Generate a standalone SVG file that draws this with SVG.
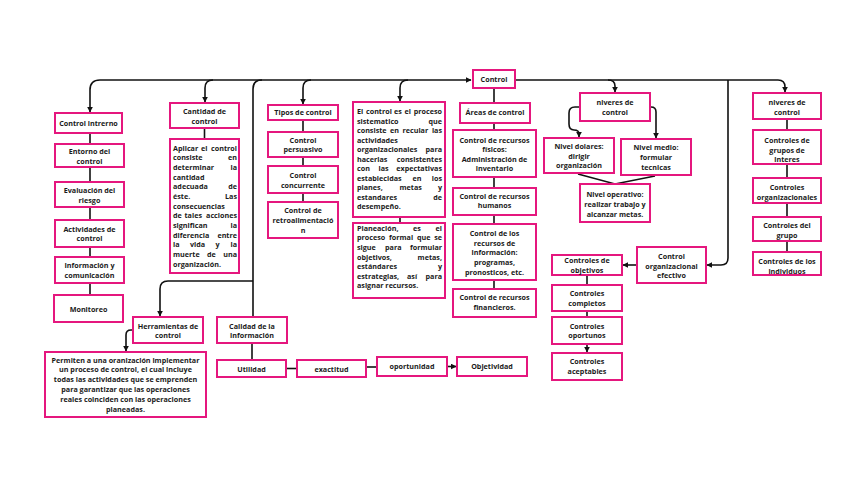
<svg xmlns="http://www.w3.org/2000/svg" width="848" height="477" viewBox="0 0 848 477">
<defs>
<marker id="a" viewBox="0 0 10 10" refX="9" refY="5" markerWidth="6" markerHeight="6" markerUnits="userSpaceOnUse" orient="auto"><path d="M0,0 L10,5 L0,10 z" fill="#111"/></marker>
<style>
rect{fill:#fff;stroke:#e5177e;stroke-width:2}
text{font-family:"Open Sans","DejaVu Sans",sans-serif;font-weight:700;font-size:7.2px;fill:#1a1a1a;text-anchor:middle}
text.l{text-anchor:start}
text.r{text-anchor:end}
#conn path{fill:none;stroke:#111;stroke-width:1.6}
</style>
</defs>
<rect x="0" y="0" width="848" height="477" style="fill:#fff;stroke:none"/>
<g id="conn">
<path d="M100,80 H471" marker-end="url(#a)"/>
<path d="M100,80 Q90,80 90,90 V112" marker-end="url(#a)"/>
<path d="M515,80 H778 Q785,80 785,87 V92" marker-end="url(#a)"/>
<path d="M213,80 Q205,80 205,88 V102" marker-end="url(#a)"/>
<path d="M262,80 Q253,80 253,89 V317"/>
<path d="M311,80 Q303,80 303,88 V104" marker-end="url(#a)"/>
<path d="M408,80 Q400,80 400,88 V101" marker-end="url(#a)"/>
<path d="M253,281 H168 Q160,281 160,289 V316" marker-end="url(#a)"/>
<path d="M133,330 H131 Q126,330 126,335 V351" marker-end="url(#a)"/>
<path d="M608,80 Q615,80 615,86 V92" marker-end="url(#a)"/>
<path d="M728,80 V258 Q728,265 721,265 H707" marker-end="url(#a)"/>
<path d="M637,265 H623" marker-end="url(#a)"/>
<path d="M90,133 V295"/>
<path d="M204.5,128 V139"/>
<path d="M303,120 V202"/>
<path d="M400,217 V223"/>
<path d="M494,88 V289"/>
<path d="M580,107 H575 Q569,107 569,113 V124 Q569,130 574,130 Q579,130 579,134 V137" marker-end="url(#a)"/>
<path d="M650,107 H651 Q656,107 656,112 V138" marker-end="url(#a)"/>
<path d="M578,174 L615,184 L655,176"/>
<path d="M787,119 V252"/>
<path d="M587,275 V317"/>
<path d="M587,344 V352" marker-end="url(#a)"/>
<path d="M252,343 V360"/>
<path d="M286,368.5 H297"/>
<path d="M366,367 H377"/>
<path d="M447,366.5 H456" marker-end="url(#a)"/>
</g>
<g id="control"><rect x="473" y="70" width="42" height="18"/><text x="494" y="81.5">Control</text></g>
<g id="control-intrerno"><rect x="55" y="113" width="67" height="20"/><text x="88.5" y="125.5">Control intrerno</text></g>
<g id="entorno"><rect x="55" y="144" width="69" height="23"/><text x="89.5" y="154">Entorno del</text><text x="89.5" y="164">control</text></g>
<g id="evaluacion"><rect x="55" y="182" width="69" height="25"/><text x="89.5" y="193">Evaluación del</text><text x="89.5" y="203">riesgo</text></g>
<g id="actividades"><rect x="55" y="220" width="69" height="27"/><text x="89.5" y="231.5">Actividades de</text><text x="89.5" y="241">control</text></g>
<g id="informacion"><rect x="55" y="257" width="69" height="26"/><text x="89.5" y="267.5">Información y</text><text x="89.5" y="277.5">comunicación</text></g>
<g id="monitoreo"><rect x="54" y="295" width="69" height="27"/><text x="88.5" y="311.5">Monitoreo</text></g>
<g id="cantidad"><rect x="170" y="103" width="69" height="25"/><text x="204.5" y="114">Cantidad de</text><text x="204.5" y="123.5">control</text></g>
<g id="aplicar"><rect x="170" y="139" width="69" height="134"/>
<text class="l" x="173" y="150.8">Aplicar<tspan x="201">el</tspan></text><text class="r" x="237" y="150.8">control</text>
<text class="l" x="173" y="160.4">consiste</text><text class="r" x="237" y="160.4">en</text>
<text class="l" x="173" y="170.1">determinar</text><text class="r" x="237" y="170.1">la</text>
<text class="l" x="173" y="179.7">cantidad</text>
<text class="l" x="173" y="189.4">adecuada</text><text class="r" x="237" y="189.4">de</text>
<text class="l" x="173" y="199">éste.</text><text class="r" x="237" y="199">Las</text>
<text class="l" x="173" y="208.6">consecuencias</text>
<text class="l" x="173" y="218.3">de<tspan x="184.5">tales</tspan></text><text class="r" x="237" y="218.3">acciones</text>
<text class="l" x="173" y="227.9">significan</text><text class="r" x="237" y="227.9">la</text>
<text class="l" x="173" y="237.6">diferencia</text><text class="r" x="237" y="237.6">entre</text>
<text class="l" x="173" y="247.2">la<tspan x="190">vida</tspan><tspan x="215.5">y</tspan></text><text class="r" x="237" y="247.2">la</text>
<text class="l" x="173" y="256.8">muerte<tspan x="207">de</tspan></text><text class="r" x="237" y="256.8">una</text>
<text class="l" x="173" y="266.5">organización.</text>
</g>
<g id="tipos"><rect x="268" y="105" width="70" height="15"/><text x="303" y="115">Tipos de control</text></g>
<g id="persuasivo"><rect x="268" y="132" width="70" height="25"/><text x="303" y="142.5">Control</text><text x="303" y="152">persuasivo</text></g>
<g id="concurrente"><rect x="268" y="166" width="70" height="27"/><text x="303" y="177.5">Control</text><text x="303" y="187.5">concurrente</text></g>
<g id="retro"><rect x="268" y="202" width="70" height="36"/><text x="303" y="213">Control de</text><text x="303" y="222.5">retroalimentació</text><text x="303" y="232.5">n</text></g>
<g id="definicion"><rect x="353" y="102" width="92" height="115"/>
<text class="l" x="357" y="114">El<tspan x="366">control</tspan><tspan x="394">es</tspan><tspan x="404.5">el</tspan></text><text class="r" x="442" y="114">proceso</text>
<text class="l" x="357" y="123.5">sistematico</text><text class="r" x="442" y="123.5">que</text>
<text class="l" x="357" y="133">consiste<tspan x="390">en</tspan><tspan x="402.5">recular</tspan></text><text class="r" x="442" y="133">las</text>
<text class="l" x="357" y="142.5">actividades</text>
<text class="l" x="357" y="152">organizacionales</text><text class="r" x="442" y="152">para</text>
<text class="l" x="357" y="161.5">hacerlas</text><text class="r" x="442" y="161.5">consistentes</text>
<text class="l" x="357" y="171">con<tspan x="378.5">las</tspan></text><text class="r" x="442" y="171">expectativas</text>
<text class="l" x="357" y="180.5">establecidas<tspan x="412.5">en</tspan></text><text class="r" x="442" y="180.5">los</text>
<text class="l" x="357" y="190">planes,<tspan x="399.5">metas</tspan></text><text class="r" x="442" y="190">y</text>
<text class="l" x="357" y="199.5">estandares</text><text class="r" x="442" y="199.5">de</text>
<text class="l" x="357" y="209">desempeño.</text>
</g>
<g id="planeacion"><rect x="353" y="223" width="92" height="75"/>
<text class="l" x="357" y="230.8">Planeación,<tspan x="413">es</tspan></text><text class="r" x="442" y="230.8">el</text>
<text class="l" x="357" y="240.4">proceso<tspan x="389">formal</tspan><tspan x="417">que</tspan></text><text class="r" x="442" y="240.4">se</text>
<text class="l" x="357" y="249.9">sigue<tspan x="385">para</tspan></text><text class="r" x="442" y="249.9">formular</text>
<text class="l" x="357" y="259.5">objetivos,</text><text class="r" x="442" y="259.5">metas,</text>
<text class="l" x="357" y="269">estándares</text><text class="r" x="442" y="269">y</text>
<text class="l" x="357" y="278.6">estrategias,<tspan x="407">así</tspan></text><text class="r" x="442" y="278.6">para</text>
<text class="l" x="357" y="288.2">asignar recursos.</text>
</g>
<g id="areas"><rect x="460" y="103" width="70" height="20"/><text x="495" y="115">Áreas de control</text></g>
<g id="fisicos"><rect x="453" y="130" width="83" height="47"/><text x="494.5" y="142.5">Control de recursos</text><text x="494.5" y="152">físicos:</text><text x="494.5" y="161.5">Administración de</text><text x="494.5" y="171">inventario</text></g>
<g id="humanos"><rect x="453" y="188" width="83" height="27"/><text x="494.5" y="198.5">Control de recursos</text><text x="494.5" y="208">humanos</text></g>
<g id="info"><rect x="453" y="224" width="83" height="56"/><text x="494.5" y="236">Control de los</text><text x="494.5" y="245.5">recursos de</text><text x="494.5" y="255">información:</text><text x="494.5" y="264.5">programas,</text><text x="494.5" y="274.5">pronosticos, etc.</text></g>
<g id="financieros"><rect x="453" y="289" width="83" height="28"/><text x="494.5" y="300">Control de recursos</text><text x="494.5" y="310">financieros.</text></g>
<g id="niveres1"><rect x="580" y="93" width="70" height="28"/><text x="615" y="105">niveres de</text><text x="615" y="115">control</text></g>
<g id="dolares"><rect x="544" y="138" width="70" height="35"/><text x="579" y="148.5">Nivel dolares:</text><text x="579" y="158.5">dirigir</text><text x="579" y="168">organización</text></g>
<g id="medio"><rect x="621" y="139" width="70" height="36"/><text x="656" y="150">Nivel medio:</text><text x="656" y="160">formular</text><text x="656" y="170">tecnicas</text></g>
<g id="operativo"><rect x="580" y="184" width="70" height="38"/><text x="615" y="196.5">Nivel operativo:</text><text x="615" y="206.5">realizar trabajo y</text><text x="615" y="216.5">alcanzar metas.</text></g>
<g id="niveres2"><rect x="753" y="93" width="68" height="26"/><text x="787" y="105">niveres de</text><text x="787" y="115">control</text></g>
<g id="grupos-interes"><rect x="753" y="130" width="68" height="34"/><text x="787" y="142.5">Controles de</text><text x="787" y="152.5">grupos de</text><text x="787" y="162">interes</text></g>
<g id="organizacionales"><rect x="753" y="178" width="68" height="25"/><text x="787" y="190">Controles</text><text x="787" y="200">organizacionales</text></g>
<g id="grupo"><rect x="753" y="217" width="68" height="24"/><text x="787" y="227.5">Controles del</text><text x="787" y="237.5">grupo</text></g>
<g id="individuos"><rect x="753" y="252" width="68" height="23"/><text x="787" y="264">Controles de los</text><text x="787" y="273.5">individuos</text></g>
<g id="efectivo"><rect x="637" y="247" width="69" height="36"/><text x="671.5" y="258.5">Control</text><text x="671.5" y="268.5">organizacional</text><text x="671.5" y="277.5">efectivo</text></g>
<g id="objetivos"><rect x="552" y="255" width="70" height="20"/><text x="587" y="263">Controles de</text><text x="587" y="272.5">objetivos</text></g>
<g id="completos"><rect x="552" y="285" width="70" height="26"/><text x="587" y="296">Controles</text><text x="587" y="306">completos</text></g>
<g id="oportunos"><rect x="552" y="317" width="70" height="27"/><text x="587" y="328.5">Controles</text><text x="587" y="338">oportunos</text></g>
<g id="aceptables"><rect x="552" y="353" width="70" height="27"/><text x="587" y="364">Controles</text><text x="587" y="373.5">aceptables</text></g>
<g id="calidad"><rect x="217" y="317" width="70" height="26"/><text x="252" y="328.5">Calidad de la</text><text x="252" y="338">información</text></g>
<g id="utilidad"><rect x="217" y="360" width="69" height="17"/><text x="251.5" y="371.5">Utilidad</text></g>
<g id="exactitud"><rect x="297" y="360" width="69" height="17"/><text x="331.5" y="371.5">exactitud</text></g>
<g id="oportunidad"><rect x="377" y="357" width="70" height="19"/><text x="412" y="369">oportunidad</text></g>
<g id="objetividad"><rect x="457" y="357" width="70" height="19"/><text x="492" y="369">Objetividad</text></g>
<g id="herramientas"><rect x="133" y="317" width="70" height="26"/><text x="168" y="328.5">Herramientas de</text><text x="168" y="338">control</text></g>
<g id="permiten"><rect x="45" y="352" width="161" height="65"/>
<text x="125.5" y="362.5">Permiten a una oranización implementar</text>
<text x="125.5" y="372">un proceso de control, el cual incluye</text>
<text x="125.5" y="382">todas las actividades que se emprenden</text>
<text x="125.5" y="392">para garantizar que las operaciones</text>
<text x="125.5" y="401.5">reales coinciden con las operaciones</text>
<text x="125.5" y="411.5">planeadas.</text>
</g>
</svg>
